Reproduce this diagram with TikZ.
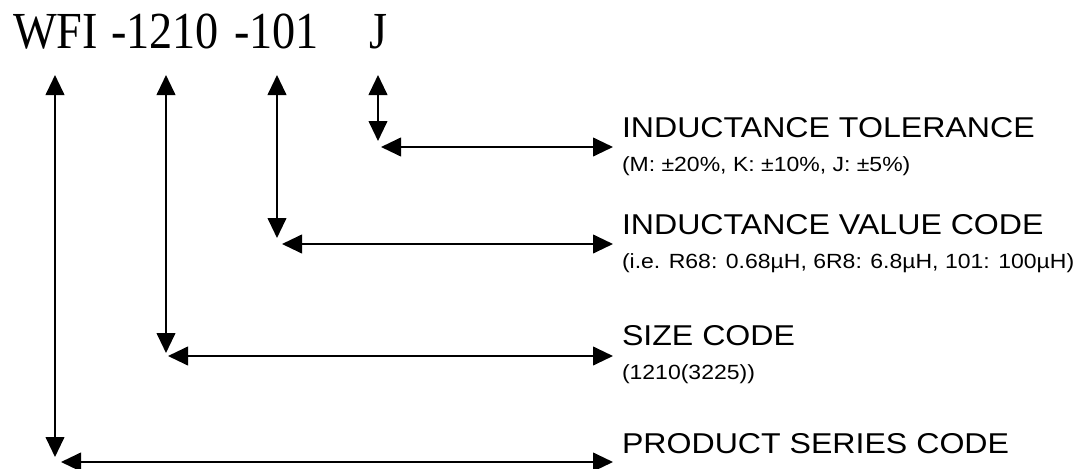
\documentclass[tikz,border=0pt]{standalone}
\usepackage{fontspec}
\setmainfont{Liberation Serif}[FakeStretch=0.89]
\newfontfamily\arialfont{Liberation Sans}[FakeStretch=1.12]
\usetikzlibrary{arrows.meta}

\begin{document}
\begin{tikzpicture}[x=0.75pt, y=-0.75pt, >={Triangle[length=15pt,width=14pt]}, line width=1.5pt]

  \tikzset{
    code/.style={font=\fontsize{39}{39}\selectfont, inner sep=0pt, anchor=base west},
    lbl/.style={font=\arialfont\fontsize{21.5}{22}\selectfont, inner sep=0pt, anchor=base west},
    sublbl/.style={font=\arialfont\fontsize{15.4}{16}\selectfont, inner sep=0pt, anchor=base west},
  }
  \useasboundingbox (0,0) rectangle (1085,468);

  % Bestellschluessel
  \node[code] (wfi) at (12,48) {WFI};
  \node[code] (size) at (110,48) {-1210};
  \node[code] (value) at (233,48) {-101};
  \node[code] (tol) at (368,48) {J};

  % Endpunkte der senkrechten Pfeile
  \coordinate (t1) at (55,75);  \coordinate (b1) at (55,457);
  \coordinate (t2) at (166,75); \coordinate (b2) at (166,353);
  \coordinate (t3) at (277,75); \coordinate (b3) at (277,238);
  \coordinate (t4) at (378,75); \coordinate (b4) at (378,141);

  % Endpunkte der waagrechten Pfeile
  \coordinate (l1) at (61,462);  \coordinate (r1) at (613,462);
  \coordinate (l2) at (168,356); \coordinate (r2) at (613,356);
  \coordinate (l3) at (282,244); \coordinate (r3) at (613,244);
  \coordinate (l4) at (381,147); \coordinate (r4) at (613,147);

  \draw[<->] (t1) -- (b1);
  \draw[<->] (t2) -- (b2);
  \draw[<->] (t3) -- (b3);
  \draw[<->] (t4) -- (b4);

  \draw[<->] (l1) -- (r1);
  \draw[<->] (l2) -- (r2);
  \draw[<->] (l3) -- (r3);
  \draw[<->] (l4) -- (r4);

  % Beschriftungen
  \node[lbl] (tolL) at (621,137) {INDUCTANCE TOLERANCE};
  \node[sublbl] (tolS) at (621,171) {(M: ±20\%, K: ±10\%, J: ±5\%)};
  \node[lbl] (valL) at (621,234) {INDUCTANCE VALUE CODE};
  \node[sublbl] (valS) at (621,268) {(i.e. R68: 0.68µH, 6R8: 6.8µH, 101: 100µH)};
  \node[lbl] (sizeL) at (621,345) {SIZE CODE};
  \node[sublbl] (sizeS) at (621,379) {(1210(3225))};
  \node[lbl] (seriesL) at (621,453) {PRODUCT SERIES CODE};

\end{tikzpicture}
\end{document}
